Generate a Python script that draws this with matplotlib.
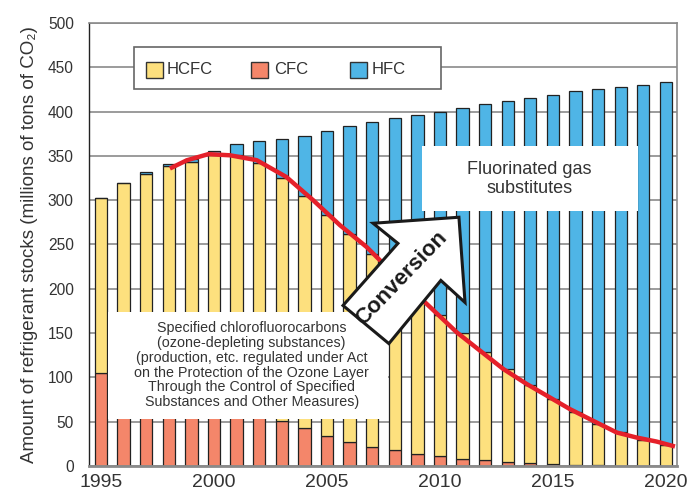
import numpy as np
import matplotlib.pyplot as plt
from matplotlib.patches import Rectangle, Polygon

plt.rcParams['font.family'] = ['Liberation Sans', 'DejaVu Sans']

# Refrigerant stocks, millions of tons CO2 equivalent
years = np.arange(1995, 2021)
cfc = [104.5, 98, 92, 85, 78, 71, 64, 57, 50.2, 42.3, 34, 26.9, 21.6,
       17.9, 13.3, 10.7, 8.4, 6.6, 4.3, 3.2, 2.4, 1.6, 1.0, 0, 0, 0]
hcfc_top = [302.5, 319.5, 330, 338.7, 343, 350.8, 350.8, 342.3, 325.5, 304.8, 282.9, 261.4, 238.8,
            216, 193, 170.6, 150.2, 129.1, 109.5, 91.0, 75.1, 60.4, 47.3, 37.8, 29.2, 23.5]
total = [302.5, 319.5, 331.2, 340.6, 345.9, 355.7, 362.9, 366.6, 368.5, 372.3, 377.6, 383.3, 388.5,
         392.3, 395.7, 399.8, 403.6, 408.1, 411.5, 414.9, 419.1, 422.9, 425.1, 428.1, 430.4, 433.4]

cfc = np.array(cfc)
hcfc = np.array(hcfc_top) - cfc
hfc = np.array(total) - np.array(hcfc_top)

# trend line of the ozone-depleting stock
trend_x = [1998.05, 1998.8, 1999.75, 2000.71, 2001.89, 2003.2, 2004.39, 2005.58, 2006.76, 2007.35,
           2009.41, 2010.74, 2011.77, 2012.8, 2013.84, 2014.86, 2015.75, 2016.78, 2017.82,
           2018.7, 2019.58, 2020.4]
trend_y = [335.7, 345, 351.9, 350.6, 345.1, 326.2, 299.9, 271.6, 247, 232,
           183, 150.9, 130.2, 109.5, 92.5, 77.4, 64.2, 51, 37.8,
           32.1, 27.6, 22]

c_hcfc = '#fde07e'
c_cfc = '#f4866a'
c_hfc = '#4fb5e6'
c_text = '#333333'

fig = plt.figure(figsize=(6.88, 4.98), dpi=100)
ax = fig.add_axes([0.1294, 0.0643, 0.8546, 0.8897])

w = 0.545
kw = dict(width=w, edgecolor='#222222', linewidth=0.9, zorder=2)
ax.bar(years, cfc, color=c_cfc, **kw)
ax.bar(years, hcfc, bottom=cfc, color=c_hcfc, **kw)
ax.bar(years, hfc, bottom=np.array(hcfc_top), color=c_hfc, **kw)

ax.plot(trend_x, trend_y, color='#e5202a', lw=3.2, solid_capstyle='butt',
        solid_joinstyle='round', zorder=3)

ax.set_xlim(1994.47, 2020.49)
ax.set_ylim(0, 500)
ax.set_yticks(np.arange(0, 501, 50))
ax.set_xticks(np.arange(1995, 2021, 5))
ax.yaxis.grid(True, color='#8a8a8a', lw=1.2, zorder=0)
ax.set_axisbelow(True)
ax.tick_params(axis='y', length=0, pad=11, labelsize=11.2, labelcolor=c_text)
ax.tick_params(axis='x', length=0, pad=6, labelsize=14, labelcolor=c_text)
for s in ['top', 'right']:
    ax.spines[s].set_color('#8a8a8a')
    ax.spines[s].set_linewidth(1.2)
ax.spines['bottom'].set_color('#8a8a8a')
ax.spines['bottom'].set_linewidth(2)
ax.spines['left'].set_color('#222222')
ax.spines['left'].set_linewidth(1)

ax.set_ylabel('Amount of refrigerant stocks (millions of tons of CO₂)',
              fontsize=13.5, color=c_text, labelpad=7)

# legend box
ax.add_patch(Rectangle((1996.45, 425.4), 13.58, 47.6, facecolor='white',
                       edgecolor='#666666', lw=1.2, zorder=4))
for px, tx, lab, col in [(1997.0, 1997.92, 'HCFC', c_hcfc),
                         (2001.62, 2002.67, 'CFC', c_cfc),
                         (2006.02, 2006.99, 'HFC', c_hfc)]:
    ax.add_patch(Rectangle((px, 438), 0.75, 18.4, facecolor=col,
                           edgecolor='#333333', lw=1, zorder=5))
    ax.text(tx, 447.5, lab, fontsize=12, color=c_text, va='center', ha='left', zorder=5)

# labelled boxes
ax.add_patch(Rectangle((1995.31, 53.3), 12.39, 119.9, facecolor='white',
                       edgecolor='none', zorder=4))
ax.text(2001.67, 113.6,
        'Specified chlorofluorocarbons\n(ozone-depleting substances)\n'
        '(production, etc. regulated under Act\non the Protection of the Ozone Layer\n'
        'Through the Control of Specified\nSubstances and Other Measures)',
        ha='center', va='center', fontsize=10.3, linespacing=1.07, color=c_text, zorder=5)

ax.add_patch(Rectangle((2009.19, 287.4), 9.57, 73.9, facecolor='white',
                       edgecolor='none', zorder=4))
ax.text(2013.97, 323.6, 'Fluorinated gas\nsubstitutes', ha='center', va='center',
        fontsize=13, linespacing=1.15, color=c_text, zorder=5)

# conversion arrow
arrow = Polygon([(2005.71, 181.1), (2008.14, 251.2), (2007.04, 273.9), (2010.84, 280.7),
                 (2011.11, 184.5), (2010.04, 209.4), (2007.74, 138.1)],
                closed=True, facecolor='white', edgecolor='#1a1a1a', lw=2.2,
                joinstyle='miter', zorder=6)
ax.add_patch(arrow)
ax.text(2008.30, 211.3, 'Conversion', rotation=46, rotation_mode='anchor',
        ha='center', va='center', fontsize=16, fontweight='bold', color='#1a1a1a',
        family=['Liberation Sans Narrow', 'Liberation Sans'], zorder=7)

fig.savefig('out.png', dpi=100)
